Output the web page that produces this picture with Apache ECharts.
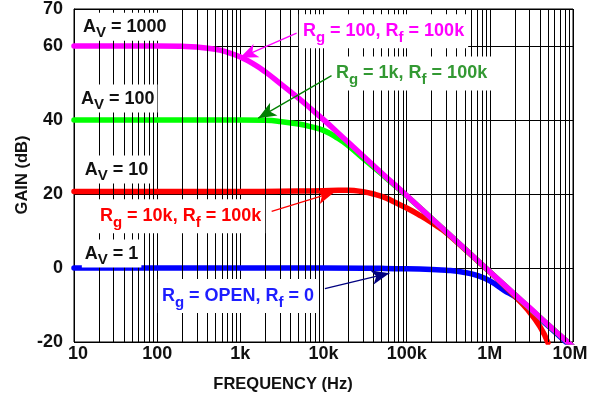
<!DOCTYPE html>
<html><head><meta charset="utf-8">
<script src="https://cdn.jsdelivr.net/npm/echarts@6/dist/echarts.min.js"></script>
<style>html,body{margin:0;padding:0;background:#fff}#c{width:597px;height:398px}</style>
</head><body><div id="c"></div>
<script>
// ---- tick labels ----
const xTickValues = [10, 100, 1e3, 1e4, 1e5, 1e6, 1e7];
const xTickLabels = ['10', '100', '1k', '10k', '100k', '1M', '10M'];
const yMin = -20, yMax = 70, yStep = 20;
const minorMultipliers = [2, 3, 4, 5, 6, 7, 8, 9];

// ---- series: Rg = 100, Rf = 100k (Av = 1000) ----
const freqM = [10, 100, 200, 300, 500, 700, 1e3, 1.5e3, 2e3, 3e3, 5e3, 7e3, 1e4, 2e4, 5e4, 1e5, 2e5, 5e5, 1e6, 2e6, 3e6, 5e6, 7e6, 1e7];
const gainM = [60, 60, 59.9, 59.7, 59.1, 58.3, 57.0, 54.9, 53.0, 49.9, 45.9, 43.1, 40.1, 33.9, 25.7, 19.6, 13.4, 5.2, -1.0, -7.2, -10.7, -15.3, -18.2, -21.3];
// ---- series: Rg = 1k, Rf = 100k (Av = 100) ----
const freqG = [10, 100, 1e3, 2e3, 3e3, 5e3, 7e3, 1e4, 1.5e4, 2e4, 3e4, 5e4, 1e5, 2e5, 5e5, 1e6, 2e6, 5e6, 1e7];
const gainG = [40, 40, 40, 39.9, 39.6, 38.9, 38.2, 37.2, 35.0, 33.0, 29.6, 25.4, 19.5, 13.4, 5.2, -1.0, -7.2, -15.3, -21.3];
// ---- series: Rg = 10k, Rf = 100k (Av = 10) ----
const freqR = [10, 100, 1e3, 5e3, 1e4, 1.5e4, 2e4, 3e4, 4e4, 5.7e4, 7e4, 1e5, 1.5e5, 1.9e5, 2.5e5, 3e5, 5e5, 8e5, 1e6, 1.5e6, 2e6, 2.75e6, 4e6, 5e6];
const gainR = [20.7, 20.7, 20.7, 20.8, 20.9, 21.0, 21.0, 20.6, 20.0, 18.9, 17.9, 16.2, 14.0, 12.6, 10.8, 9.5, 5.1, 0.9, -1.1, -4.8, -7.6, -10.9, -15.8, -20.2];
// ---- series: Rg = OPEN, Rf = 0 (Av = 1) ----
const freqB = [10, 100, 1e3, 1e4, 5e4, 1e5, 2e5, 3e5, 5e5, 7e5, 1e6, 1.5e6, 2e6, 3e6, 5e6, 7e6, 8.5e6];
const gainB = [0, 0, 0, 0, -0.1, -0.2, -0.4, -0.6, -1.2, -2.0, -3.5, -6.1, -7.7, -11.1, -15.6, -18.6, -20.3];

// ---- annotations (data coordinates: [freq, dB]) ----
const avValues = ['1000', '100', '10', '1'];
const avPos = [[12.8, 65.2], [12.1, 45.8], [13.5, 26.6], [13.5, 3.9]];
const rgValues = ['100', '1k', '10k', 'OPEN'];
const rfValues = ['100k', '100k', '100k', '0'];
const rgPos = [[5.65e3, 64.0], [1.41e4, 52.6], [20.5, 14.0], [114, -7.6]];
const rgColors = ['#FF00FF', '#339933', '#FF0000', '#1E1EFF'];
const arrowFrom = [[4.75e3, 63.5], [1.25e4, 52.0], [2.38e3, 15.3], [1.04e4, -5.6]];
const arrowTo = [[990, 56.8], [1.64e3, 40.5], [1.37e4, 20.6], [6.2e4, -1.4]];
const arrowColors = ['#FF00FF', '#008000', '#FF0000', '#000080'];

const FONT = '"Liberation Sans", Arial, Helvetica, sans-serif';
const zip = (a, b) => a.map((v, i) => [v, b[i]]);

const minorVals = [];
xTickValues.slice(0, -1).forEach(d => minorMultipliers.forEach(m => minorVals.push(d * m)));

const chart = echarts.init(document.getElementById('c'), null, {renderer: 'canvas'});

function curve(name, f, g, color) {
  return {
    name, type: 'line', data: zip(f, g), showSymbol: false, symbol: 'none',
    smooth: 0.5, z: 3, silent: true,
    lineStyle: {color, width: 5.5, cap: 'round', join: 'round'}, emphasis: {disabled: true}
  };
}

const arrowSeries = arrowFrom.map((from, i) => ({
  type: 'line', data: [], silent: true, z: 6,
  markLine: {
    silent: true, animation: false,
    symbol: ['none', 'arrow'], symbolSize: [11, 18],
    label: {show: false},
    lineStyle: {color: arrowColors[i], width: 1.3, type: 'solid'},
    emphasis: {disabled: true},
    data: [[{coord: from}, {coord: arrowTo[i]}]]
  }
}));

const option = {
  animation: false,
  backgroundColor: '#fff',
  grid: {left: 74, right: 24, top: 9, bottom: 56, show: true, borderColor: '#000', borderWidth: 1, containLabel: false, outerBoundsMode: 'none'},
  xAxis: {
    type: 'log', logBase: 10, min: xTickValues[0], max: xTickValues[xTickValues.length - 1],
    axisLine: {lineStyle: {color: '#000', width: 1}},
    axisTick: {show: false},
    splitLine: {show: true, lineStyle: {color: '#000', width: 1}},
    axisLabel: {
      margin: 3, color: '#111', fontSize: 18, fontWeight: 'bold', fontFamily: FONT,
      formatter: v => {
        const i = Math.round(Math.log10(v)) - 1;
        const t = xTickLabels[i];
        if (i === 0) return '{first|' + t + '}';
        if (i === xTickLabels.length - 1) return '{last|' + t + '}';
        return t;
      },
      rich: {
        first: {padding: [0, 0, 0, 8], fontSize: 18, fontWeight: 'bold', fontFamily: FONT, color: '#111'},
        last: {padding: [0, 6, 0, 0], fontSize: 18, fontWeight: 'bold', fontFamily: FONT, color: '#111'}
      }
    }
  },
  yAxis: {
    type: 'value', min: yMin, max: yMax, interval: yStep,
    axisLine: {show: true, lineStyle: {color: '#000', width: 1}},
    axisTick: {show: false},
    splitLine: {show: true, lineStyle: {color: '#000', width: 1}},
    axisLabel: {margin: 11, color: '#111', fontSize: 18, fontWeight: 'bold', fontFamily: FONT}
  },
  series: [
    {
      type: 'line', data: [], silent: true, z: 1,
      markLine: {
        silent: true, animation: false, symbol: ['none', 'none'], label: {show: false},
        lineStyle: {color: '#000', width: 1, type: 'solid'}, emphasis: {disabled: true},
        data: minorVals.map(v => ({xAxis: v}))
      }
    },
    curve('Rg = OPEN, Rf = 0', freqB, gainB, '#0000FF'),
    curve('Rg = 10k, Rf = 100k', freqR, gainR, '#FF0000'),
    curve('Rg = 1k, Rf = 100k', freqG, gainG, '#00FF00'),
    curve('Rg = 100, Rf = 100k', freqM, gainM, '#FF00FF'),
    ...arrowSeries
  ]
};
chart.setOption(option);

function richStyles(color) {
  return {
    m: {font: 'bold 18px ' + FONT, lineHeight: 28, fill: color},
    s: {font: 'bold 15px ' + FONT, lineHeight: 14, verticalAlign: 'bottom', fill: color}
  };
}
const graphics = [];
avValues.forEach((v, i) => {
  const p = chart.convertToPixel({gridIndex: 0}, avPos[i]);
  graphics.push({
    type: 'text', z: 100, x: p[0] - 3, y: p[1], silent: true,
    style: {text: '{m|A}{s|V}{m| = ' + v + '}', rich: richStyles('#111'), fill: '#111',
      backgroundColor: '#fff', padding: [0, 3, 0, 3], align: 'left', verticalAlign: 'middle'}
  });
});
rgValues.forEach((v, i) => {
  const p = chart.convertToPixel({gridIndex: 0}, rgPos[i]);
  graphics.push({
    type: 'text', z: 100, x: p[0] - 4, y: p[1], silent: true,
    style: {text: '{m|R}{s|g}{m| = ' + v + ', R}{s|f}{m| = ' + rfValues[i] + '}', rich: richStyles(rgColors[i]), fill: rgColors[i],
      backgroundColor: '#fff', padding: [3, 4, 3, 4], align: 'left', verticalAlign: 'middle'}
  });
});
graphics.push({
  type: 'text', z: 100, x: 283, y: 384, silent: true,
  style: {text: 'FREQUENCY (Hz)', font: 'bold 16.5px ' + FONT, fill: '#111', align: 'center', verticalAlign: 'middle'}
});
graphics.push({
  type: 'text', z: 100, x: 22, y: 175, rotation: Math.PI / 2, silent: true,
  style: {text: 'GAIN (dB)', font: 'bold 16.5px ' + FONT, fill: '#111', align: 'center', verticalAlign: 'middle'}
});
chart.setOption({graphic: graphics});
</script>
</body></html>
